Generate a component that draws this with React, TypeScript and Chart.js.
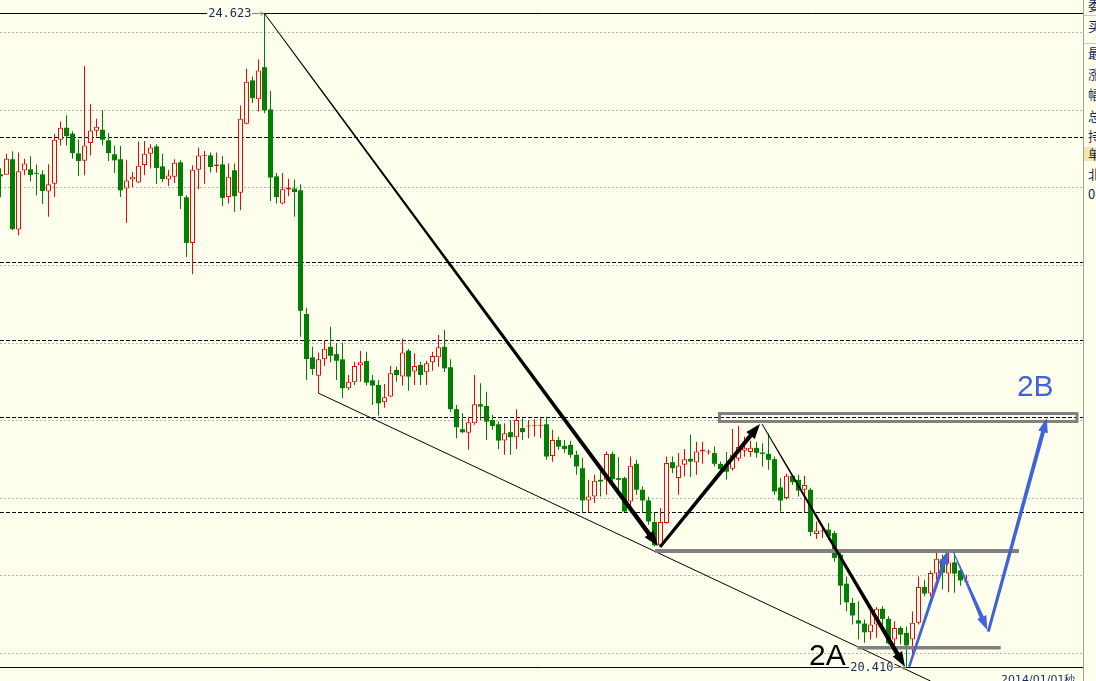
import React, { useEffect, useRef } from "react";
import { Chart, registerables } from "chart.js";

Chart.register(...registerables);

const BG = "#FFFFEE";
const UP = "#FF0000";
const DOWN = "#008000";
const GREY = "#808080";
const BLUE = "#4063D8";
const NAVY = "#10285A";

// ---- candle data (index = bar number) ----
const opens = [
  23.587, 23.585, 23.684, 23.232, 23.611, 23.619, 23.594, 23.587, 23.476, 23.527,
  23.810, 23.887, 23.849, 23.722, 23.675, 23.788, 23.868, 23.874, 23.806, 23.716,
  23.684, 23.495, 23.553, 23.534, 23.647, 23.720, 23.767, 23.638, 23.553, 23.572,
  23.664, 23.439, 23.145, 23.617, 23.704, 23.709, 23.641, 23.651, 23.441, 23.613,
  23.469, 23.913, 24.192, 24.071, 24.277, 24.005, 23.574, 23.399, 23.489, 23.495,
  23.484, 22.687, 22.408, 22.290, 22.395, 22.476, 22.429, 22.395, 22.209, 22.247,
  22.357, 22.384, 22.260, 22.230, 22.119, 22.155, 22.327, 22.284, 22.451, 22.316,
  22.359, 22.312, 22.376, 22.408, 22.476, 22.344, 22.074, 21.945, 21.923, 21.984,
  22.106, 22.095, 22.005, 21.977, 21.872, 21.926, 21.894, 21.952, 21.962, 21.968,
  21.968, 21.977, 21.773, 21.876, 21.838, 21.844, 21.780, 21.694, 21.486, 21.512,
  21.619, 21.619, 21.786, 21.630, 21.630, 21.480, 21.722, 21.555, 21.486, 21.347,
  21.197, 21.341, 21.733, 21.630, 21.716, 21.754, 21.730, 21.801, 21.795, 21.791,
  21.722, 21.709, 21.690, 21.754, 21.806, 21.799, 21.825, 21.795, 21.786, 21.752,
  21.570, 21.502, 21.645, 21.619, 21.555, 21.555, 21.270, 21.286, 21.298, 21.276,
  21.137, 20.950, 20.826, 20.714, 20.693, 20.637, 20.687, 20.788, 20.723, 20.590,
  20.665, 20.633, 20.590, 20.698, 20.929, 20.886, 21.015, 21.105, 21.015, 21.087,
  21.036, 20.963,
];
const highs = [
  23.626, 23.720, 23.735, 23.727, 23.688, 23.703, 23.650, 23.613, 23.652, 23.849,
  23.928, 23.967, 23.864, 23.812, 24.284, 24.042, 23.945, 23.999, 23.853, 23.773,
  23.769, 23.677, 23.602, 23.799, 23.801, 23.780, 23.780, 23.720, 23.617, 23.684,
  23.677, 23.452, 23.645, 23.759, 23.737, 23.727, 23.727, 23.703, 23.656, 23.656,
  24.031, 24.267, 24.217, 24.327, 24.623, 24.123, 23.595, 23.595, 23.559, 23.553,
  23.523, 22.727, 22.476, 22.440, 22.520, 22.605, 22.498, 22.502, 22.294, 22.380,
  22.449, 22.444, 22.294, 22.262, 22.237, 22.352, 22.348, 22.530, 22.462, 22.434,
  22.380, 22.386, 22.444, 22.552, 22.584, 22.395, 22.101, 22.048, 22.026, 22.294,
  22.241, 22.187, 22.037, 21.994, 21.984, 22.005, 22.074, 22.016, 22.005, 22.010,
  22.016, 22.026, 21.941, 21.896, 21.876, 21.870, 21.806, 21.759, 21.619, 21.651,
  21.694, 21.801, 21.801, 21.765, 21.638, 21.769, 21.748, 21.576, 21.510, 21.405,
  21.437, 21.769, 21.769, 21.791, 21.817, 21.909, 21.865, 21.865, 21.812, 21.833,
  21.737, 21.799, 21.947, 21.966, 21.896, 21.870, 21.864, 21.855, 21.919, 21.769,
  21.630, 21.658, 21.651, 21.651, 21.645, 21.568, 21.351, 21.319, 21.341, 21.291,
  21.169, 20.997, 20.858, 20.836, 20.719, 20.772, 20.800, 20.804, 20.740, 20.708,
  20.676, 20.674, 20.770, 20.997, 20.976, 21.034, 21.158, 21.137, 21.158, 21.158,
  21.062, 21.008,
];
const lows = [
  23.439, 23.585, 23.227, 23.195, 23.581, 23.542, 23.452, 23.396, 23.313, 23.441,
  23.773, 23.773, 23.688, 23.576, 23.581, 23.709, 23.831, 23.773, 23.673, 23.595,
  23.441, 23.274, 23.505, 23.529, 23.581, 23.624, 23.527, 23.537, 23.512, 23.531,
  23.364, 23.055, 22.944, 23.491, 23.527, 23.598, 23.598, 23.383, 23.399, 23.345,
  23.356, 23.909, 24.046, 23.992, 23.981, 23.415, 23.399, 23.394, 23.446, 23.313,
  22.541, 22.262, 22.294, 22.177, 22.352, 22.376, 22.262, 22.145, 22.198, 22.230,
  22.251, 22.226, 22.101, 22.033, 22.084, 22.151, 22.251, 22.226, 22.193, 22.230,
  22.230, 22.230, 22.322, 22.348, 22.314, 22.056, 21.887, 21.919, 21.812, 21.973,
  22.005, 21.876, 21.941, 21.817, 21.780, 21.780, 21.817, 21.876, 21.887, 21.898,
  21.889, 21.748, 21.735, 21.812, 21.793, 21.761, 21.651, 21.411, 21.411, 21.469,
  21.512, 21.523, 21.593, 21.523, 21.411, 21.405, 21.523, 21.409, 21.330, 21.190,
  21.188, 21.336, 21.662, 21.523, 21.640, 21.637, 21.651, 21.722, 21.780, 21.705,
  21.658, 21.619, 21.677, 21.741, 21.767, 21.767, 21.761, 21.705, 21.684, 21.523,
  21.415, 21.491, 21.587, 21.512, 21.411, 21.255, 21.238, 21.244, 21.233, 21.092,
  20.815, 20.772, 20.687, 20.590, 20.569, 20.590, 20.601, 20.655, 20.558, 20.552,
  20.558, 20.410, 20.481, 20.687, 20.869, 20.867, 20.976, 20.912, 20.894, 20.891,
  20.937, 20.944,
];
const closes = [
  23.574, 23.688, 23.234, 23.606, 23.656, 23.583, 23.590, 23.480, 23.523, 23.810,
  23.887, 23.833, 23.724, 23.673, 23.773, 23.870, 23.894, 23.810, 23.724, 23.677,
  23.484, 23.547, 23.572, 23.643, 23.720, 23.759, 23.628, 23.557, 23.579, 23.662,
  23.448, 23.145, 23.617, 23.709, 23.709, 23.634, 23.651, 23.435, 23.572, 23.446,
  23.945, 24.183, 24.078, 24.256, 23.999, 23.566, 23.441, 23.491, 23.502, 23.473,
  22.708, 22.397, 22.333, 22.395, 22.464, 22.418, 22.386, 22.209, 22.251, 22.352,
  22.376, 22.245, 22.226, 22.112, 22.151, 22.305, 22.294, 22.440, 22.284, 22.352,
  22.294, 22.370, 22.417, 22.473, 22.337, 22.074, 21.958, 21.926, 21.990, 22.106,
  22.091, 21.994, 21.966, 21.872, 21.919, 21.894, 22.005, 21.926, 21.966, 21.973,
  21.973, 21.769, 21.876, 21.833, 21.817, 21.780, 21.705, 21.486, 21.512, 21.613,
  21.608, 21.786, 21.624, 21.619, 21.415, 21.709, 21.555, 21.486, 21.351, 21.197,
  21.347, 21.727, 21.694, 21.711, 21.752, 21.737, 21.801, 21.812, 21.799, 21.722,
  21.688, 21.671, 21.780, 21.831, 21.825, 21.825, 21.793, 21.786, 21.748, 21.544,
  21.486, 21.645, 21.604, 21.550, 21.585, 21.283, 21.293, 21.288, 21.255, 21.116,
  20.937, 20.830, 20.745, 20.693, 20.637, 20.687, 20.788, 20.723, 20.565, 20.665,
  20.622, 20.552, 20.698, 20.929, 20.886, 21.019, 21.111, 21.021, 21.087, 21.015,
  20.971, 20.965,
];

// ---- reference lines ----
const gridPrices = [20.5, 21.0, 21.5, 22.0, 22.5, 23.0, 23.5, 24.0, 24.5];
const levelPrices = [23.824, 23.019, 22.514, 22.022, 21.411];
const highIndex = 44;
const lowIndex = 151;
const highValue = 24.623;
const lowValue = 20.41;
const highLabel = "24.623";
const lowLabel = "20.410";

// ---- drawn annotations (in bar-index / price units) ----
const trendLine = [
  [53, 22.177],
  [155, 20.323],
];
const blackArrows = [
  { x0: 44, y0: 24.623, x1: 109.58, y1: 21.193, w0: 0.8, w1: 4.5 },
  { x0: 109.92, y0: 21.186, x1: 126.58, y1: 21.979, w0: 3, w1: 4.2 },
  { x0: 126.92, y0: 21.979, x1: 150.75, y1: 20.415, w0: 0.8, w1: 4.5 },
];
const blueArrows = [
  { x0: 151.45, y0: 20.415, x1: 157.87, y1: 21.162, w0: 2.5, w1: 3.5 },
  { x0: 158.8, y0: 21.156, x1: 164.47, y1: 20.652, w0: 1, w1: 4.2 },
  { x0: 164.63, y0: 20.641, x1: 174.37, y1: 22.015, w0: 3, w1: 4 },
];
const greyBox = { x0: 119.83, x1: 179.42, y0: 22.046, y1: 21.995 };
const greyLines = [
  { x0: 109.08, x1: 169.75, y: 21.16, w: 4 },
  { x0: 142.8, x1: 166.7, y: 20.538, w: 3.5 },
];
const textMarks = [
  { text: "2A", x: 134.75, y: 20.429, color: "#000000" },
  { text: "2B", x: 169.4, y: 22.159, color: BLUE },
];

const panelChars = ["委", "买", "最", "涨", "幅", "总", "持", "单", "北", "0"];
const panelRows = [5, 26, 53, 74, 94, 116, 136, 154, 174, 194];
const dateLabel = "2014/01/01秒";

const PLOT_W = 1083;
const H = 681;
const X_MIN = -0.5 / 6;
const X_MAX = (PLOT_W - 0.5) / 6;
const Y_MAX = 24.70997;
const Y_MIN = 20.32303;

function taperedArrow(
  ctx: CanvasRenderingContext2D,
  x0: number, y0: number, x1: number, y1: number,
  w0: number, w1: number, headLen: number, headW: number, color: string
) {
  const dx = x1 - x0, dy = y1 - y0;
  const L = Math.hypot(dx, dy);
  const ux = dx / L, uy = dy / L;
  const nx = -uy, ny = ux;
  const bx = x1 - ux * headLen, by = y1 - uy * headLen;
  ctx.fillStyle = color;
  ctx.beginPath();
  ctx.moveTo(x0 + (nx * w0) / 2, y0 + (ny * w0) / 2);
  ctx.lineTo(bx + (nx * w1) / 2, by + (ny * w1) / 2);
  ctx.lineTo(bx + (nx * headW) / 2, by + (ny * headW) / 2);
  ctx.lineTo(x1, y1);
  ctx.lineTo(bx - (nx * headW) / 2, by - (ny * headW) / 2);
  ctx.lineTo(bx - (nx * w1) / 2, by - (ny * w1) / 2);
  ctx.lineTo(x0 - (nx * w0) / 2, y0 - (ny * w0) / 2);
  ctx.closePath();
  ctx.fill();
}

const overlay = {
  id: "overlay",
  beforeDatasetsDraw(chart: any) {
    const { ctx, chartArea, scales } = chart;
    const y = scales.y;
    ctx.save();
    ctx.lineWidth = 1;
    ctx.strokeStyle = "#B4B4B4";
    ctx.setLineDash([2, 2]);
    gridPrices.forEach((p) => {
      const py = Math.floor(y.getPixelForValue(p)) + 0.5;
      ctx.beginPath();
      ctx.moveTo(chartArea.left, py);
      ctx.lineTo(chartArea.right, py);
      ctx.stroke();
    });
    ctx.strokeStyle = "#000000";
    ctx.setLineDash([4, 2]);
    levelPrices.forEach((p) => {
      const py = Math.floor(y.getPixelForValue(p)) + 0.5;
      ctx.beginPath();
      ctx.moveTo(chartArea.left, py);
      ctx.lineTo(chartArea.right, py);
      ctx.stroke();
    });
    ctx.setLineDash([]);
    [highValue, lowValue].forEach((p) => {
      const py = Math.floor(y.getPixelForValue(p)) + 0.5;
      ctx.beginPath();
      ctx.moveTo(chartArea.left, py);
      ctx.lineTo(chartArea.right, py);
      ctx.stroke();
    });
    ctx.restore();
  },
  afterDatasetsDraw(chart: any) {
    const { ctx, scales } = chart;
    const x = scales.x, y = scales.y;
    const px = (v: number) => x.getPixelForValue(v);
    const py = (v: number) => y.getPixelForValue(v);
    ctx.save();

    // lower trend line
    ctx.strokeStyle = "#000000";
    ctx.lineWidth = 1;
    ctx.beginPath();
    ctx.moveTo(px(trendLine[0][0]), py(trendLine[0][1]));
    ctx.lineTo(px(trendLine[1][0]), py(trendLine[1][1]));
    ctx.stroke();

    // grey box and lines
    ctx.strokeStyle = GREY;
    ctx.lineWidth = 3;
    ctx.strokeRect(
      px(greyBox.x0), py(greyBox.y0),
      px(greyBox.x1) - px(greyBox.x0), py(greyBox.y1) - py(greyBox.y0)
    );
    greyLines.forEach((g) => {
      ctx.lineWidth = g.w;
      ctx.beginPath();
      ctx.moveTo(px(g.x0), py(g.y));
      ctx.lineTo(px(g.x1), py(g.y));
      ctx.stroke();
    });

    // arrows
    blackArrows.forEach((a) =>
      taperedArrow(ctx, px(a.x0), py(a.y0), px(a.x1), py(a.y1), a.w0, a.w1, 15, 11, "#000000")
    );
    blueArrows.forEach((a) =>
      taperedArrow(ctx, px(a.x0), py(a.y0), px(a.x1), py(a.y1), a.w0, a.w1, 14, 10, BLUE)
    );

    // high / low labels
    ctx.font = "12px 'DejaVu Sans Mono'";
    ctx.textBaseline = "middle";
    ctx.textAlign = "right";
    const drawLabel = (txt: string, idx: number, val: number) => {
      const cx = px(idx);
      const cy = Math.floor(py(val)) + 0.5;
      const tx = cx - 13;
      const w = ctx.measureText(txt).width;
      ctx.fillStyle = BG;
      ctx.fillRect(tx - w - 1, cy - 5, w + 2, 10);
      ctx.fillStyle = NAVY;
      ctx.fillText(txt, tx, cy + 0.5);
      ctx.strokeStyle = GREY;
      ctx.lineWidth = 1;
      ctx.beginPath();
      ctx.moveTo(tx + 1, cy);
      ctx.lineTo(cx - 1, cy);
      ctx.moveTo(cx - 4, cy - 2);
      ctx.lineTo(cx - 1, cy);
      ctx.lineTo(cx - 4, cy + 2);
      ctx.stroke();
    };
    drawLabel(highLabel, highIndex, highValue);
    drawLabel(lowLabel, lowIndex, lowValue);

    // big text marks
    ctx.font = "30px 'Liberation Sans'";
    ctx.textAlign = "left";
    ctx.textBaseline = "alphabetic";
    textMarks.forEach((t) => {
      ctx.fillStyle = t.color;
      ctx.fillText(t.text, px(t.x), py(t.y));
    });
    ctx.restore();
  },
};

export default function App() {
  const ref = useRef<HTMLCanvasElement | null>(null);

  useEffect(() => {
    document.body.style.margin = "0";
    const canvas = ref.current;
    if (!canvas) return;
    const idx = opens.map((_, i) => i);
    const isUp = idx.map((i) => closes[i] >= opens[i]);
    const bodyData = idx.map((i) => ({
      x: i,
      y: [Math.min(opens[i], closes[i]), Math.max(opens[i], closes[i])],
    }));
    const wickData = idx.map((i) => ({ x: i, y: [lows[i], highs[i]] }));

    const chart = new Chart(canvas, {
      type: "bar",
      data: {
        datasets: [
          {
            label: "body",
            data: bodyData as any,
            order: 0,
            grouped: false,
            barThickness: 5,
            minBarLength: 1,
            inflateAmount: 0,
            backgroundColor: isUp.map((u) => (u ? BG : DOWN)),
            borderColor: isUp.map((u) => (u ? UP : DOWN)),
            borderWidth: isUp.map((u) => (u ? 1 : 0)),
            borderSkipped: false,
          } as any,
          {
            label: "wick",
            data: wickData as any,
            order: 1,
            grouped: false,
            barThickness: 1,
            inflateAmount: 0,
            backgroundColor: isUp.map((u) => (u ? UP : DOWN)),
            borderWidth: 0,
          } as any,
        ],
      },
      options: {
        responsive: false,
        animation: false,
        devicePixelRatio: 1,
        events: [],
        layout: { padding: 0 },
        plugins: { legend: { display: false }, tooltip: { enabled: false } },
        scales: {
          x: { type: "linear", display: false, min: X_MIN, max: X_MAX, offset: false },
          y: { type: "linear", display: false, min: Y_MIN, max: Y_MAX },
        },
      },
      plugins: [overlay as any],
    });
    return () => chart.destroy();
  }, []);

  return (
    <div
      style={{
        position: "absolute",
        left: 0,
        top: 0,
        width: 1096,
        height: H,
        background: BG,
        overflow: "hidden",
      }}
    >
      <canvas
        ref={ref}
        width={PLOT_W}
        height={H}
        style={{ position: "absolute", left: 0, top: 0, width: PLOT_W, height: H }}
      />
      <div
        style={{
          position: "absolute",
          left: 1001,
          top: 673,
          font: "11px 'DejaVu Sans', sans-serif",
          lineHeight: "14px",
          color: NAVY,
          whiteSpace: "nowrap",
        }}
      >
        {dateLabel}
      </div>
      <div
        style={{
          position: "absolute",
          left: PLOT_W,
          top: 0,
          width: 1096 - PLOT_W,
          height: H,
          borderLeft: "1px solid #A0A0A0",
          boxSizing: "border-box",
          overflow: "hidden",
          background: BG,
        }}
      >
        <div style={{ position: "absolute", left: 0, top: 15, width: 20, height: 1, background: "#C8C8C8" }} />
        <div style={{ position: "absolute", left: 0, top: 43, width: 20, height: 1, background: "#C8C8C8" }} />
        <div style={{ position: "absolute", left: 0, top: 147, width: 20, height: 14, background: "#F6E6A4" }} />
        {panelChars.map((c, k) => (
          <div
            key={k}
            style={{
              position: "absolute",
              left: 4,
              top: panelRows[k] - 8,
              font: "13px 'Noto Sans CJK SC', sans-serif",
              lineHeight: "16px",
              color: NAVY,
              whiteSpace: "nowrap",
            }}
          >
            {c}
          </div>
        ))}
      </div>
    </div>
  );
}
